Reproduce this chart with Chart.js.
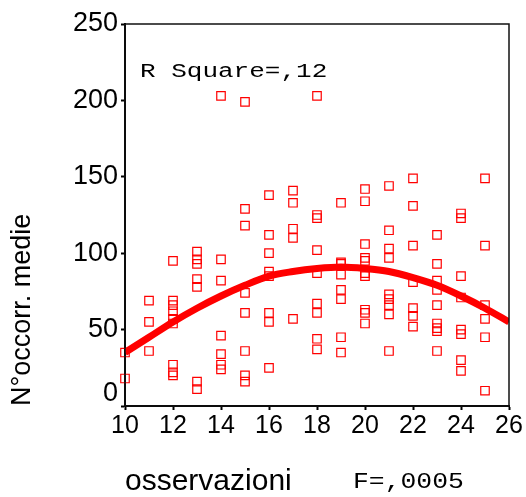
<!DOCTYPE html>
<html>
<head>
<meta charset="utf-8">
<script src="https://cdn.jsdelivr.net/npm/chart.js@4"></script>
<style>
  html, body { margin: 0; padding: 0; background: #fff; }
  #grafico { display: block; }
</style>
</head>
<body>
<canvas id="grafico" width="526" height="497"></canvas>
<script>
// punti osservati (x = osservazioni, y = N° occorrenze medie)
const osservazioni = [
  10, 10,
  11, 11, 11,
  12, 12, 12, 12, 12, 12, 12, 12, 12,
  13, 13, 13, 13, 13, 13, 13,
  14, 14, 14, 14, 14, 14, 14,
  15, 15, 15, 15, 15, 15, 15, 15,
  16, 16, 16, 16, 16, 16, 16, 16,
  17, 17, 17, 17, 17,
  18, 18, 18, 18, 18, 18, 18, 18, 18,
  19, 19, 19, 19, 19, 19, 19, 19,
  20, 20, 20, 20, 20, 20, 20, 20, 20, 20,
  21, 21, 21, 21, 21, 21, 21, 21, 21,
  22, 22, 22, 22, 22, 22, 22,
  23, 23, 23, 23, 23, 23, 23, 23, 23,
  24, 24, 24, 24, 24, 24, 24, 24,
  25, 25, 25, 25, 25, 25
];
const occorrenze = [
  35, 18,
  69, 55, 36,
  95, 69, 66, 62, 57, 54, 27, 22, 20,
  101, 96, 93, 83, 78, 16, 11,
  203, 96, 82, 46, 34, 27, 24,
  199, 129, 118, 74, 61, 36, 20, 16,
  138, 112, 100, 88, 85, 61, 55, 25,
  141, 133, 116, 110, 57,
  203, 125, 123, 102, 87, 67, 61, 44, 37,
  133, 94, 93, 86, 76, 70, 45, 35,
  142, 134, 106, 97, 95, 87, 85, 63, 61, 54,
  144, 115, 103, 97, 73, 70, 66, 60, 36,
  149, 131, 105, 81, 64, 59, 52,
  112, 93, 82, 76, 66, 54, 51, 49, 36,
  126, 123, 85, 71, 50, 47, 30, 23,
  149, 105, 66, 57, 45, 10
];

// curva quadratica stimata
const curvaX = [10, 11, 12, 13, 14, 15, 16, 17, 18, 19, 20, 21, 22, 23, 24, 25, 26];
const curvaY = [35, 45, 55, 64, 72, 79, 85, 88, 90, 91, 90, 88, 84, 79, 72, 64, 55];

const tickY = [0, 50, 100, 150, 200, 250];
const zeroAlzato = 8.3; // SPSS scrive lo "0" un po' sopra l'angolo
const rSquare = "R Square=,12";
const fTest = "F=,0005";

const rosso = "#ff0000";
const fontSans = "'Liberation Sans', Arial, sans-serif";

function testoMono(ctx, testo, x, y, size, stretch) {
  ctx.save();
  ctx.translate(x, y);
  ctx.scale(stretch, 1);
  ctx.font = size + "px 'Liberation Mono', monospace";
  ctx.fillStyle = "#000";
  ctx.textBaseline = "alphabetic";
  ctx.fillText(testo, 0, 0);
  ctx.restore();
}

const cornice = {
  id: "cornice",
  afterDraw(chart) {
    const { ctx, chartArea: a } = chart;
    ctx.save();
    ctx.strokeStyle = "#111";
    ctx.lineWidth = 1.5;
    ctx.strokeRect(a.left, a.top, a.right - a.left, a.bottom - a.top);
    ctx.restore();
    testoMono(ctx, rSquare, 140, 77, 20, 1.3);
    testoMono(ctx, fTest, 353, 488, 22, 1.2);
  },
};

const punti = osservazioni.map((x, i) => ({ x: x, y: occorrenze[i] }));
const curva = curvaX.map((x, i) => ({ x: x, y: curvaY[i] }));

new Chart(document.getElementById("grafico"), {
  type: "scatter",
  data: {
    datasets: [
      {
        type: "line",
        data: curva,
        borderColor: rosso,
        borderWidth: 7,
        pointRadius: 0,
        cubicInterpolationMode: "monotone",
        fill: false,
      },
      {
        data: punti,
        pointStyle: "rect",
        pointRadius: 6,
        borderColor: rosso,
        backgroundColor: "transparent",
        borderWidth: 1.2,
        clip: false,
      },
    ],
  },
  options: {
    responsive: false,
    animation: false,
    devicePixelRatio: 1,
    layout: { padding: { left: 0, top: 24, right: 17, bottom: 0 } },
    plugins: { legend: { display: false }, tooltip: { enabled: false } },
    scales: {
      x: {
        min: 10,
        max: 26,
        afterFit: (s) => { s.height = 91; },
        ticks: {
          stepSize: 2,
          autoSkip: false,
          maxRotation: 0,
          padding: 1,
          color: "#000",
          font: { family: fontSans, size: 25 },
        },
        grid: { drawOnChartArea: false, tickLength: 4, tickColor: "#000", tickWidth: 2 },
        border: { color: "#000", width: 2 },
        title: {
          display: true,
          text: "osservazioni",
          align: "start",
          color: "#000",
          font: { family: fontSans, size: 30, lineHeight: 1 },
          padding: { top: 0, bottom: 0 },
        },
      },
      y: {
        min: 0,
        max: 250,
        afterFit: (s) => { s.width = 125; },
        afterBuildTicks: (s) => {
          s.ticks = tickY.map((v) => ({ value: v }));
          s.ticks.splice(1, 0, { value: zeroAlzato });
        },
        ticks: {
          autoSkip: false,
          padding: 3,
          color: "#000",
          font: { family: fontSans, size: 27 },
          callback: (v) => (v === 0 ? "" : v === zeroAlzato ? "0" : v),
        },
        grid: {
          drawOnChartArea: false,
          tickLength: 4,
          tickWidth: 2,
          tickColor: (c) => (c.tick && c.tick.value === zeroAlzato ? "transparent" : "#000"),
        },
        border: { color: "#000", width: 2 },
        title: {
          display: true,
          text: "N°occorr. medie",
          align: "start",
          color: "#000",
          font: { family: fontSans, size: 27, lineHeight: 1 },
          padding: { top: 9, bottom: 0 },
        },
      },
    },
  },
  plugins: [cornice],
});
</script>
</body>
</html>
